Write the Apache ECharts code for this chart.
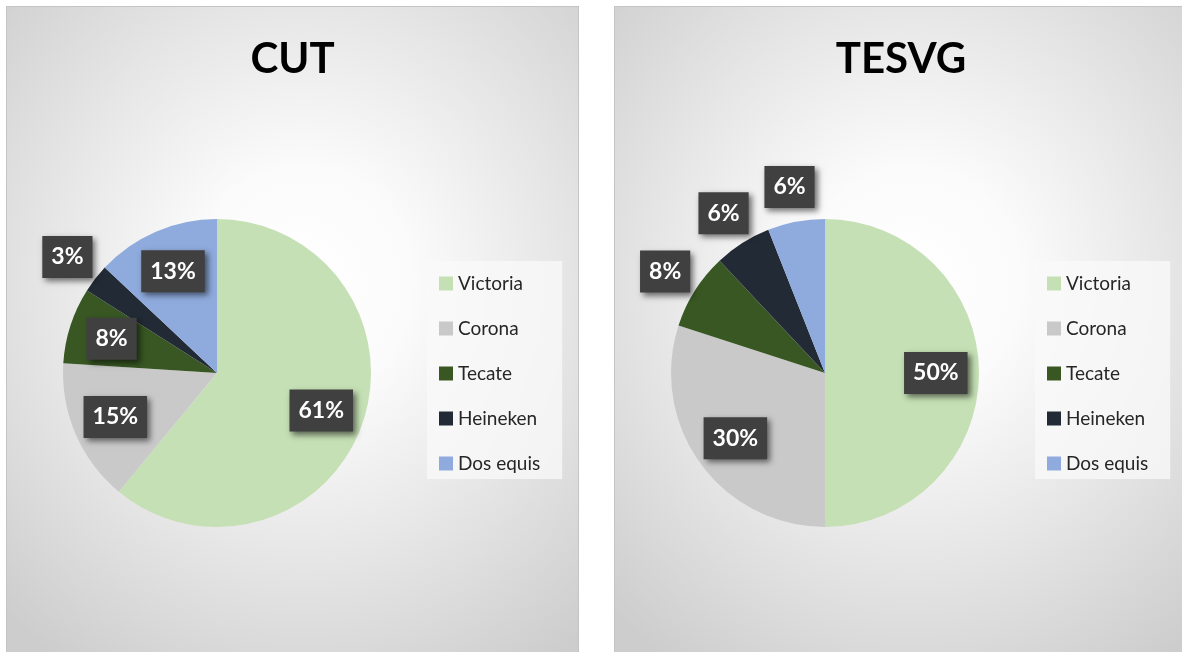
<!DOCTYPE html>
<html>
<head>
<meta charset="utf-8">
<script src="https://cdn.jsdelivr.net/npm/echarts@6/dist/echarts.min.js"></script>
<style>
  html, body { margin: 0; padding: 0; background: #fff; overflow: hidden; width: 1182px; height: 652px; }
  .panel {
    position: absolute; top: 6px; width: 573px; height: 660px;
    border: 1px solid #c4c4c4; box-sizing: border-box;
    background: radial-gradient(ellipse 75% 70% at 52% 42%, #ffffff 0%, #fbfbfb 25%, #e6e6e6 60%, #cdcdcd 100%);
  }
  #cut { left: 6px; }
  #tesvg { left: 614px; border-right: none; }
</style>
</head>
<body>
<div class="panel" id="cut"></div>
<div class="panel" id="tesvg"></div>
<script>
// datos
const brands = ['Victoria', 'Corona', 'Tecate', 'Heineken', 'Dos equis'];
const cutShare = [61, 15, 8, 3, 13];
const tesvgShare = [50, 30, 8, 6, 6];
const colors = ['#c5e0b4', '#c9c9c9', '#385723', '#222a35', '#8faadc'];

const font = 'Lato, "Open Sans", sans-serif';
const R = 154;

function labelStyle(){
    return {
        show: true,
        position: 'inside',
        formatter: '{c}%',
        color: '#fff',
        fontFamily: font,
        fontWeight: 'bold',
        fontSize: 23,
        backgroundColor: '#404040',
        padding: [10, 9, 9, 9],
        shadowColor: 'rgba(0,0,0,0.55)',
        shadowBlur: 6,
        shadowOffsetX: 3,
        shadowOffsetY: 3
    }
}

function drawPie(id, title, values, outside){
    let chart = echarts.init(document.getElementById(id))
    let slices = brands.map((b, i) => ({ name: b, value: values[i] }))
    // etiquetas en dos anillos invisibles: dentro (~0.7r) y fuera (~1.2r)
    let inner = brands.map((b, i) => ({ name: b, value: values[i], label: { show: outside.indexOf(b) < 0 } }))
    let outer = brands.map((b, i) => ({ name: b, value: values[i], label: { show: outside.indexOf(b) >= 0 } }))
    let ghost = {
        type: 'pie', center: [210, 366], startAngle: 90, clockwise: true,
        silent: true, animation: false, avoidLabelOverlap: false,
        itemStyle: { color: 'transparent' },
        labelLine: { show: false },
        emphasis: { disabled: true },
        label: labelStyle()
    }
    chart.setOption({
        backgroundColor: 'transparent',
        color: colors,
        title: {
            text: title, left: 'center', top: 26,
            textStyle: { fontFamily: font, fontWeight: 'bold', fontSize: 42, color: '#000' }
        },
        legend: {
            orient: 'vertical', left: 420, top: 254,
            padding: [13, 22, 6, 12],
            backgroundColor: 'rgba(250,250,250,0.75)',
            icon: 'rect', itemWidth: 14, itemHeight: 14, itemGap: 26,
            data: brands,
            textStyle: { fontFamily: font, fontSize: 19, color: '#262626' }
        },
        series: [
            {
                type: 'pie', radius: R, center: [210, 366],
                startAngle: 90, clockwise: true, animation: false,
                label: { show: false }, labelLine: { show: false },
                itemStyle: { borderWidth: 0 },
                data: slices
            },
            Object.assign({}, ghost, { radius: R * 1.4, data: inner }),
            Object.assign({}, ghost, { radius: R * 2.42, data: outer })
        ]
    })
    window.addEventListener('resize', function(){
        chart.resize();
    })
}

drawPie('cut', 'CUT', cutShare, ['Heineken'])
drawPie('tesvg', 'TESVG', tesvgShare, ['Tecate', 'Heineken', 'Dos equis'])
</script>
</body>
</html>
